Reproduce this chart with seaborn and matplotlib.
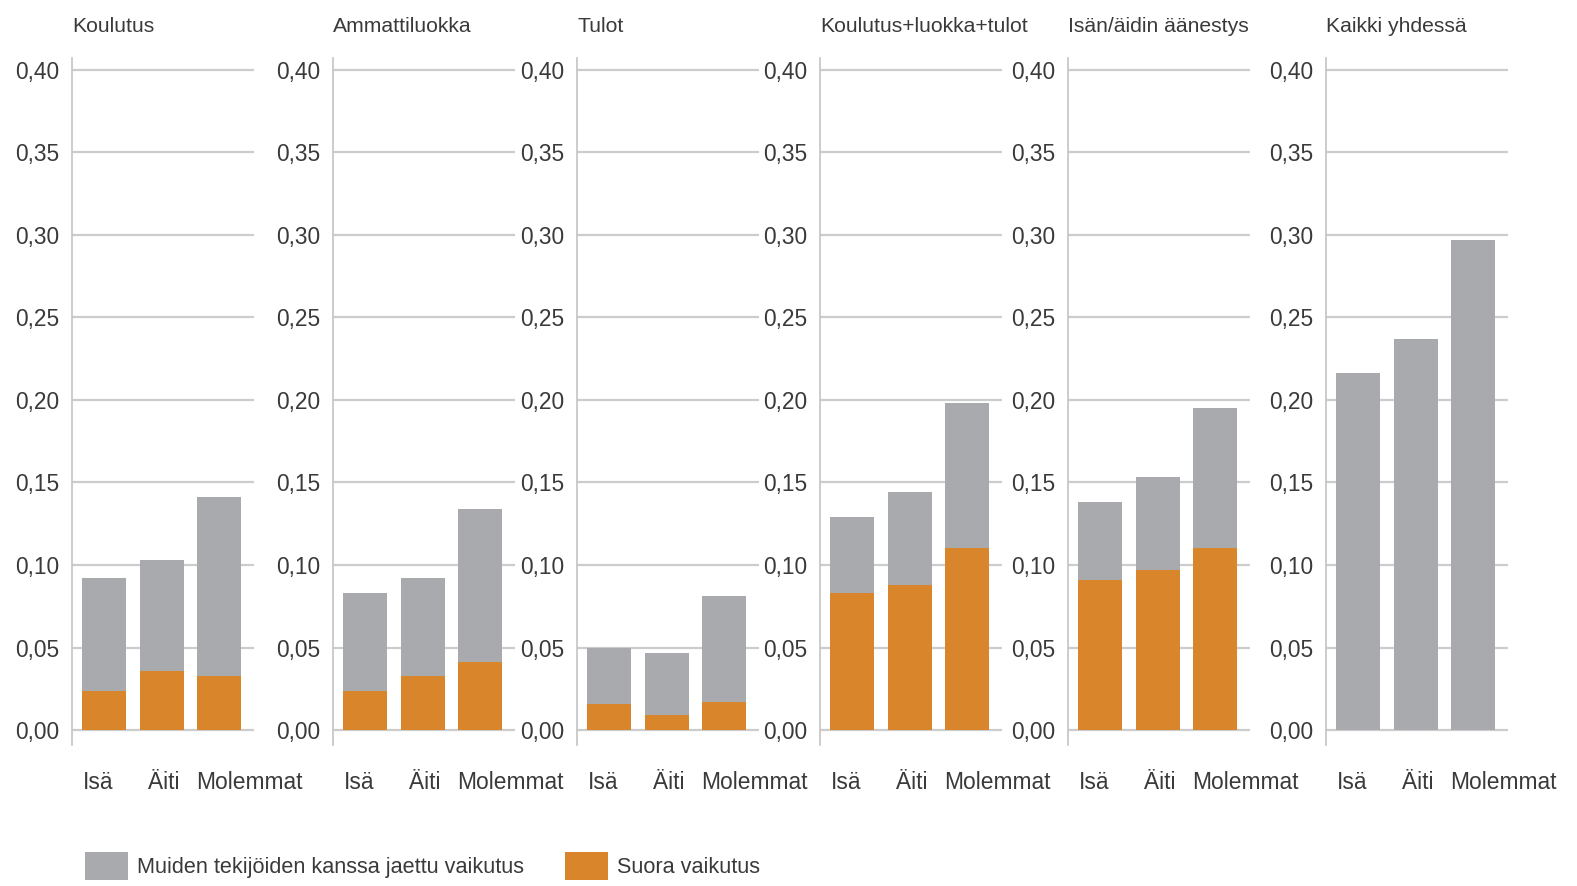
import matplotlib
matplotlib.use("Agg")
import matplotlib.pyplot as plt
from matplotlib.patches import Patch
import seaborn as sns

# data
categories = ["Isä", "Äiti", "Molemmat"]
panel_titles = ["Koulutus", "Ammattiluokka", "Tulot", "Koulutus+luokka+tulot",
                "Isän/äidin äänestys", "Kaikki yhdessä"]
total_effect = [
    [0.092, 0.103, 0.141],
    [0.083, 0.092, 0.134],
    [0.050, 0.047, 0.081],
    [0.129, 0.144, 0.198],
    [0.138, 0.153, 0.195],
    [0.216, 0.237, 0.297],
]
direct_effect = [
    [0.024, 0.036, 0.033],
    [0.024, 0.033, 0.041],
    [0.016, 0.009, 0.017],
    [0.083, 0.088, 0.110],
    [0.091, 0.097, 0.110],
    None,
]
y_ticks = [0.00, 0.05, 0.10, 0.15, 0.20, 0.25, 0.30, 0.35, 0.40]
legend_labels = ["Muiden tekijöiden kanssa jaettu vaikutus", "Suora vaikutus"]

GREY = "#a8aaad"
ORANGE = "#d9852c"
GRID = "#cccccc"
TEXT = "#3a3a3a"

sns.set_style("white")
plt.rcParams["font.family"] = ["Liberation Sans", "DejaVu Sans"]

W, H = 1577, 886
fig = plt.figure(figsize=(W / 100, H / 100), dpi=100)

# panel left edges in pixels
lefts_px = [72, 333, 577, 820, 1068, 1326]
width_px = 182
top_px, bottom_px = 58, 745
BAR_W = 0.76

for i, title in enumerate(panel_titles):
    ax = fig.add_axes([lefts_px[i] / W, (H - bottom_px) / H,
                       width_px / W, (bottom_px - top_px) / H])
    sns.barplot(x=categories, y=total_effect[i], color=GREY, saturation=1,
                width=BAR_W, linewidth=0, edgecolor="none", ax=ax, zorder=2)
    if direct_effect[i] is not None:
        sns.barplot(x=categories, y=direct_effect[i], color=ORANGE, saturation=1,
                    width=BAR_W, linewidth=0, edgecolor="none", ax=ax, zorder=3)
    ax.set_xlim(-0.55, 2.6)
    ax.set_ylim(-0.009, 0.407)
    ax.set_yticks(y_ticks)
    ax.set_yticklabels([f"{t:.2f}".replace(".", ",") for t in y_ticks])
    # labels start near the left edge of each bar
    ax.set_xticks([-0.36, 0.76, 1.6])
    ax.set_xticklabels(categories, ha="left")
    ax.yaxis.grid(True, color=GRID, linewidth=1.6, zorder=0)
    ax.set_axisbelow(True)
    for s in ["top", "right", "bottom"]:
        ax.spines[s].set_visible(False)
    ax.spines["left"].set_color("#c4c4c4")
    ax.spines["left"].set_linewidth(1.2)
    ax.tick_params(axis="y", length=6, width=1.6, color=GRID, pad=3,
                   labelsize=16.4, labelcolor=TEXT)
    ax.tick_params(axis="x", length=0, pad=19, labelsize=16.4, labelcolor=TEXT)
    ax.set_xlabel("")
    ax.set_ylabel("")
    ax.set_title(title, loc="left", fontsize=15.2, color=TEXT, pad=19)

handles = [Patch(facecolor=GREY, edgecolor="none"),
           Patch(facecolor=ORANGE, edgecolor="none")]
fig.legend(handles, legend_labels, loc="center left",
           bbox_to_anchor=(85 / W, (H - 866) / H), ncol=2, frameon=False,
           fontsize=15.6, handlelength=1.98, handleheight=1.66, handletextpad=0.41,
           columnspacing=1.89, borderpad=0, borderaxespad=0, labelcolor=TEXT)

fig.savefig("out.png", dpi=100)
